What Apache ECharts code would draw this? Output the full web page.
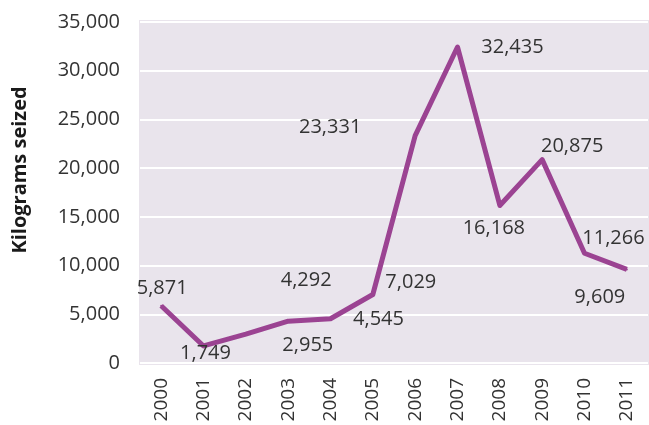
<!DOCTYPE html>
<html>
<head>
<meta charset="utf-8">
<script src="https://cdn.jsdelivr.net/npm/echarts@6/dist/echarts.min.js"></script>
<style>
  html, body { margin: 0; padding: 0; background: #fff; }
  #main { width: 649px; height: 425px; }
</style>
</head>
<body>
<div id="main"></div>
<script>
var years = ['2000', '2001', '2002', '2003', '2004', '2005', '2006', '2007', '2008', '2009', '2010', '2011'];
var seized = [5871, 1749, 2955, 4292, 4545, 7029, 23331, 32435, 16168, 20875, 11266, 9609];
// label nudges as placed in the original figure
var labelOffsets = [[1, -18], [2, 7], [62, 11], [18, -41], [48, 1], [38, -12],
    [-85, -8], [55, 0], [-6, 23], [30, -13], [29, -15], [-27, 28]];

var myChart = echarts.init(document.getElementById('main'));
var font = '"Open Sans", "Noto Sans", sans-serif';

var points = seized.map(function (v, i) {
    // symbol box is 2px, so its centre sits at [1, 1]
    return {
        value: v,
        label: { position: [1 + labelOffsets[i][0], 1 + labelOffsets[i][1]] }
    };
});

myChart.setOption({
    animation: false,
    textStyle: { fontFamily: font },
    graphic: [
        {
            type: 'rect', z: -10,
            shape: { x: 139, y: 20, width: 510, height: 345 },
            style: { fill: '#e9e4ec' }
        },
        {
            type: 'text',
            x: 20, y: 170, rotation: Math.PI / 2,
            style: {
                text: 'Kilograms seized', fontFamily: font, fontSize: 20, fontWeight: 'bold',
                fill: '#1a1a1a', align: 'center', verticalAlign: 'middle'
            }
        }
    ],
    grid: { left: 140, right: 1, top: 22, bottom: 62 },
    xAxis: {
        type: 'category',
        data: years,
        boundaryGap: true,
        axisLine: { show: false },
        axisTick: { show: false },
        axisLabel: { rotate: 90, margin: 15, fontSize: 19, color: '#333', fontFamily: font }
    },
    yAxis: {
        type: 'value',
        min: 0, max: 35000, interval: 5000,
        axisLine: { show: false },
        axisTick: { show: false },
        splitLine: { lineStyle: { color: '#ffffff', width: 2 } },
        axisLabel: {
            margin: 20, fontSize: 20, color: '#333', fontFamily: font,
            formatter: function (v) { return v.toLocaleString('en-US'); }
        }
    },
    series: [{
        type: 'line',
        data: points,
        symbol: 'circle',
        symbolSize: 2,
        showSymbol: true,
        labelLayout: { hideOverlap: false },
        lineStyle: { color: '#9b4392', width: 5, join: 'round' },
        itemStyle: { color: '#9b4392' },
        label: {
            show: true,
            align: 'center',
            verticalAlign: 'middle',
            fontSize: 20,
            color: '#333',
            fontFamily: font,
            formatter: function (p) { return p.value.toLocaleString('en-US'); }
        }
    }]
});
</script>
</body>
</html>
